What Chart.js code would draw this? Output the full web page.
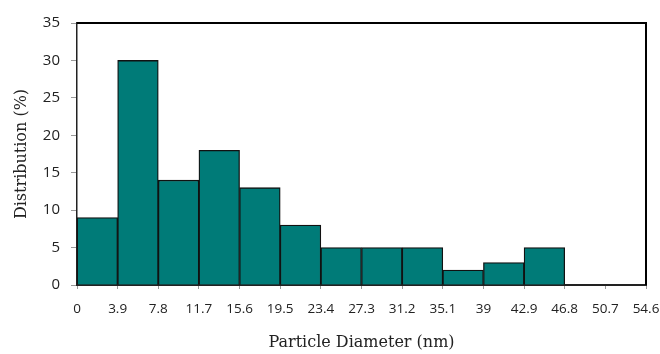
<!DOCTYPE html>
<html>
<head>
<meta charset="utf-8">
<script src="https://cdn.jsdelivr.net/npm/chart.js@4"></script>
<style>
  html, body { margin: 0; padding: 0; background: #fff; }
  #wrap { width: 660px; height: 354px; }
</style>
</head>
<body>
<div id="wrap"><canvas id="histChart"></canvas></div>
<script>
// bin edges (nm) used as x tick labels
const binEdges = [0, 3.9, 7.8, 11.7, 15.6, 19.5, 23.4, 27.3, 31.2, 35.1, 39, 42.9, 46.8, 50.7, 54.6];
// distribution (%) per bin
const distribution = [9, 30, 14, 18, 13, 8, 5, 5, 5, 2, 3, 5, 0, 0];
const yTicks = [0, 5, 10, 15, 20, 25, 30, 35];

const barData = distribution.map((v, i) => ({
    x: (binEdges[i] + binEdges[i + 1]) / 2,
    y: v
}));

// frame on top and right of the plot area
const frame = {
    id: 'frame',
    afterDraw(chart) {
        const a = chart.chartArea;
        const ctx = chart.ctx;
        ctx.save();
        ctx.strokeStyle = '#000';
        ctx.lineWidth = 2;
        ctx.beginPath();
        ctx.moveTo(a.left, a.top);
        ctx.lineTo(a.right, a.top);
        ctx.lineTo(a.right, a.bottom);
        ctx.stroke();
        ctx.restore();
    }
};

new Chart(document.getElementById('histChart'), {
    type: 'bar',
    data: {
        datasets: [{
            data: barData,
            backgroundColor: '#007b78',
            borderColor: '#111',
            borderWidth: 1.3,
            barPercentage: 1,
            categoryPercentage: 1
        }]
    },
    options: {
        responsive: true,
        maintainAspectRatio: false,
        animation: false,
        layout: { padding: { top: 23, right: 14, left: 0, bottom: 0 } },
        plugins: {
            legend: { display: false },
            tooltip: { enabled: false }
        },
        scales: {
            x: {
                type: 'linear',
                offset: false,
                min: binEdges[0],
                max: binEdges[binEdges.length - 1],
                afterBuildTicks: axis => {
                    axis.ticks = binEdges.map(v => ({ value: v }));
                },
                afterFit: axis => {
                    axis.height = 69;
                    axis.paddingLeft = 0;
                    axis.paddingRight = 0;
                },
                ticks: {
                    autoSkip: false,
                    maxRotation: 0,
                    padding: 12,
                    color: '#222',
                    font: { family: 'Open Sans', size: 13.5 },
                    callback: v => String(v)
                },
                grid: {
                    offset: false,
                    drawOnChartArea: false,
                    drawTicks: true,
                    tickLength: 4,
                    color: '#999'
                },
                border: { color: '#222', width: 2 },
                title: {
                    display: true,
                    text: 'Particle Diameter (nm)',
                    color: '#222',
                    font: { family: 'DejaVu Serif', size: 16 },
                    padding: { top: 0, bottom: 2 }
                }
            },
            y: {
                min: 0,
                max: 35,
                afterBuildTicks: axis => {
                    axis.ticks = yTicks.map(v => ({ value: v }));
                },
                afterFit: axis => {
                    axis.width = 77;
                },
                ticks: {
                    color: '#222',
                    padding: 11,
                    font: { family: 'Open Sans', size: 15 }
                },
                grid: {
                    drawOnChartArea: false,
                    drawTicks: true,
                    tickLength: 6,
                    color: '#999'
                },
                border: { color: '#222', width: 1.5 },
                title: {
                    display: true,
                    text: 'Distribution (%)',
                    color: '#222',
                    font: { family: 'DejaVu Serif', size: 16 },
                    padding: { top: 12, bottom: 0 }
                }
            }
        }
    },
    plugins: [frame]
});
</script>
</body>
</html>
